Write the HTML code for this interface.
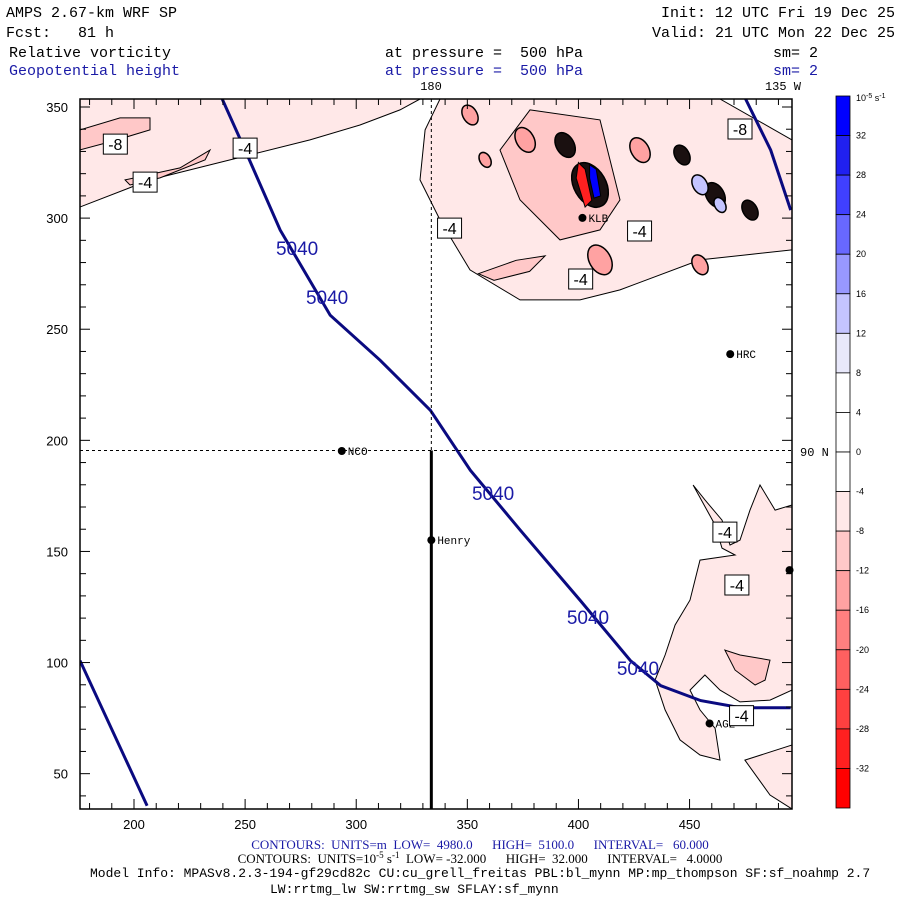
<!DOCTYPE html>
<html><head><meta charset="utf-8"><style>
body{margin:0;background:#fff;}
svg{display:block;font-family:"Liberation Mono",monospace;}
text{white-space:pre;}
</style></head><body>
<svg id="chart" width="900" height="900" viewBox="0 0 900 900" xml:space="preserve">
<g font-size="15">
<text x="6" y="17">AMPS 2.67-km WRF SP</text>
<text x="6" y="37">Fcst:   81 h</text>
<text x="895" y="17" text-anchor="end">Init: 12 UTC Fri 19 Dec 25</text>
<text x="895" y="37" text-anchor="end">Valid: 21 UTC Mon 22 Dec 25</text>
<text x="9" y="57">Relative vorticity</text>
<text x="385" y="57">at pressure =  500 hPa</text>
<text x="773" y="57">sm= 2</text>
<text x="9" y="75" fill="#1a1aa6">Geopotential height</text>
<text x="385" y="75" fill="#1a1aa6">at pressure =  500 hPa</text>
<text x="773" y="75" fill="#1a1aa6">sm= 2</text>
<text x="431" y="90" font-size="12" text-anchor="middle">180</text>
<text x="783" y="90" font-size="12" text-anchor="middle">135 W</text>
<text x="800" y="456" font-size="12">90 N</text>
</g>
<defs><clipPath id="pc"><rect x="80" y="99" width="712" height="710"/></clipPath></defs>
<g id="regions" clip-path="url(#pc)"></g>
<g id="lines" clip-path="url(#pc)"></g>
<g id="stations"></g>
<g id="labels"></g>
<g id="axes"></g>
<g id="cbar"></g>
<g font-family="Liberation Serif,serif">
<text x="480" y="849" font-size="13" fill="#1a1aa6" text-anchor="middle">CONTOURS:  UNITS=m  LOW=  4980.0      HIGH=  5100.0      INTERVAL=   60.000</text>
<text x="480" y="863" font-size="13" text-anchor="middle">CONTOURS:  UNITS=10<tspan dy="-5" font-size="9">-5</tspan><tspan dy="5"> s</tspan><tspan dy="-5" font-size="9">-1</tspan><tspan dy="5">  LOW= -32.000      HIGH=  32.000      INTERVAL=   4.0000</tspan></text>
<text x="90" y="877" font-size="13" font-family="Liberation Mono,monospace">Model Info: MPASv8.2.3-194-gf29cd82c CU:cu_grell_freitas PBL:bl_mynn MP:mp_thompson SF:sf_noahmp 2.7</text>
<text x="270" y="893" font-size="13" font-family="Liberation Mono,monospace">LW:rrtmg_lw SW:rrtmg_sw SFLAY:sf_mynn</text>
</g>
</svg>
<script>
const xTicks=[200,250,300,350,400,450];
const yTicks=[50,100,150,200,250,300,350];
const cbarLabels=["32","28","24","20","16","12","8","4","0","-4","-8","-12","-16","-20","-24","-28","-32"];
const cbarColors=["#0000ff","#2020f0","#4040ff","#6868ff","#9898ff","#c4c4ff","#e8e8fa","#ffffff","#ffffff","#ffffff","#ffe8e8","#ffc8c8","#ffa2a2","#ff8080","#ff6060","#ff4040","#ff2020","#ff0000"];
const heightLine1=[[239.7,353.6],[250,330.6],[265.8,294.6],[288.3,256.3],[310.8,236],[333.4,213.5],[351.4,186.5],[373.9,159.5],[400.9,127.9],[423.4,100.9],[437,89.6],[455,82.9],[473,79.7],[495.5,79.7]];
const heightLine2=[[175.7,100.9],[205.9,35.6]];
const heightLine3=[[475.2,353.6],[486.5,330.6],[495.5,303.6]];
const heightLabels=[[273.4,286.5],[286.9,264.5],[361.6,176.3],[404.3,120.5],[426.8,97.5]];
const stationNames=["NCO","Henry","HRC","AG2","KLB",""];
const stationLon=[293.5,333.8,468.3,459,401.8,495];
const stationLat=[195.2,155.1,238.8,72.6,300.1,141.6];
const vortLabels=["-8","-4","-4","-4","-4","-4","-8","-4","-4","-4"];
const vortLabelX=[191.6,205,250,342,427.5,401,472.7,465.9,471.3,473.4];
const vortLabelY=[333.3,316.2,331.5,295.5,294.2,272.6,340.1,158.7,134.9,76.1];
const regionLevels=[-4,-8,-8,-4,-8,-4,-8,-4,-8];
const regionShapes=[
[[175.7,353.6],[328.7,353.6],[319.7,348.7],[301.7,341.9],[279.2,335.2],[243.2,326.2],[207.2,317.2],[175.7,305]],
[[175.7,339.7],[193.7,345.1],[207.2,345.1],[207.2,339.7],[189.2,334.3],[175.7,330.7]],
[[196,317.2],[220.7,322.6],[234.2,330.6],[232,326.2],[211.7,318.1],[198.2,314.9]],
[[337.7,353.6],[463.7,353.6],[496.1,335.2],[496.1,285.7],[454.7,281.2],[418.7,267.7],[400.7,263.2],[373.7,263.2],[351.2,276.7],[337.7,299.2],[328.7,317.2],[331,339.7]],
[[378.2,348.7],[409.7,344.2],[418.7,308.2],[409.7,294.7],[391.7,290.2],[373.7,308.2],[364.7,330.6]],
[[451.6,179.9],[461.5,161.9],[464.6,151.5],[470.5,148.4],[454.7,146.1],[450.2,128.1],[443.5,116.9],[439,103.4],[434.5,92.2],[439,78.7],[445.7,65.2],[454.7,58.4],[463.7,56.1],[461.5,70.4],[454.7,78.7],[450.2,87.6],[456.9,94.4],[463.7,87.6],[472.7,82.3],[486.2,83.1],[496.1,87.6],[496.1,170.9],[488.5,168.6],[481.7,179.9],[477.2,168.6],[472.7,155.1],[468.2,152.9],[464.6,164.1],[457,173.1]],
[[465.9,105.6],[472.7,103.4],[486.2,101.1],[484,92.1],[479.5,89.9],[470.5,96.6]],
[[474.9,56.1],[496.1,62.9],[496.1,34.1],[486.2,40.4]],
[[355,275],[372,281],[385,283],[378,276],[362,272]]];
const blobX=[394,446.6,461.5,477.2,427.7,409.7,376,351.2,454.7,358,454.7,463.7,405.2];
const blobY=[332.9,328.4,310.4,303.6,330.6,281.2,335.2,346.4,279,326.2,315,305.9,314.9];
const blobR=[5,4,5,4,5,6,5,4,4,3,4,3,9];
const blobLevel=[99,99,99,99,-12,-12,-12,-12,-12,-12,16,16,99];
const coreLevels=[-30,30];
const coreShapes=[
[[400,325],[403,322],[406,308],[403,305],[399,318]],
[[405,324],[408,322],[410,310],[407,309],[405,318]]];
const X0=175.7,X1=496.1,Y0=34.1,Y1=353.6,PL=80,PR=792,PT=99,PB=809;
function xs(v){return PL+(v-X0)/(X1-X0)*(PR-PL);}
function ys(v){return PB-(v-Y0)/(Y1-Y0)*(PB-PT);}
const NS="http://www.w3.org/2000/svg";
function mk(t,a,p){const e=document.createElementNS(NS,t);for(const k in a)e.setAttribute(k,a[k]);p.appendChild(e);return e;}
function colorFor(l){if(l>50)return"#1a1010";if(l<=-28)return"#ff2020";if(l<=-12)return"#ffa2a2";if(l<=-8)return"#ffc8c8";if(l<0)return"#ffe8e8";if(l>=28)return"#0000ff";return"#c4c4ff";}
const R=document.getElementById('regions');
function drawShape(s,l){
 const p=mk('path',{d:'M'+s.map(q=>xs(q[0]).toFixed(1)+','+ys(q[1]).toFixed(1)).join('L')+'Z',fill:colorFor(l),stroke:'#000','stroke-width':1},R);
 
 
}
regionShapes.forEach((s,i)=>drawShape(s,regionLevels[i]));
blobX.forEach((v,i)=>{
 const r=blobR[i]*(PR-PL)/(X1-X0);
 const e=mk('ellipse',{cx:xs(v),cy:ys(blobY[i]),rx:r*0.8,ry:r*1.2,fill:colorFor(blobLevel[i]),stroke:'#000','stroke-width':1.5,transform:'rotate(-30 '+xs(v)+' '+ys(blobY[i])+')'},R);
 
 
});
coreShapes.forEach((s,i)=>drawShape(s,coreLevels[i]));
const L=document.getElementById('lines');
[heightLine1,heightLine2,heightLine3].forEach(s=>{
 const p=mk('polyline',{points:s.map(q=>xs(q[0]).toFixed(1)+','+ys(q[1]).toFixed(1)).join(' '),fill:'none',stroke:'#0a0a80','stroke-width':3},L);
 
 
});
heightLabels.forEach(q=>{
 const t=mk('text',{x:xs(q[0]),y:ys(q[1])+7,'text-anchor':'middle','font-size':19,fill:'#1a1aa6','font-family':'Liberation Sans,sans-serif'},L);
 t.textContent='5040';
 
 
});
const A=document.getElementById('axes');
mk('line',{x1:xs(333.8),x2:xs(333.8),y1:PT,y2:ys(195.4),stroke:'#000','stroke-dasharray':'3,3'},A);
mk('line',{x1:PL,x2:PR,y1:ys(195.4),y2:ys(195.4),stroke:'#000','stroke-dasharray':'3,3'},A);
mk('line',{x1:xs(333.8),x2:xs(333.8),y1:ys(195.4),y2:PB,stroke:'#000','stroke-width':3},A);
mk('rect',{x:PL,y:PT,width:PR-PL,height:PB-PT,fill:'none',stroke:'#000','stroke-width':1.5},A);
for(let v=180;v<=490;v+=10){const x=xs(v);const len=v%50==0?10:6;
 mk('line',{x1:x,x2:x,y1:PB,y2:PB-len,stroke:'#000'},A);mk('line',{x1:x,x2:x,y1:PT,y2:PT+len,stroke:'#000'},A);}
for(let v=40;v<=350;v+=10){const y=ys(v);const len=v%50==0?10:6;
 mk('line',{x1:PL,x2:PL+len,y1:y,y2:y,stroke:'#000'},A);mk('line',{x1:PR,x2:PR-len,y1:y,y2:y,stroke:'#000'},A);}
xTicks.forEach(v=>{const t=mk('text',{x:xs(v),y:829,'text-anchor':'middle','font-size':13,'font-family':'Liberation Sans,sans-serif'},A);t.textContent=v;
 });
yTicks.forEach(v=>{const t=mk('text',{x:68,y:ys(v)+5,'text-anchor':'end','font-size':13,'font-family':'Liberation Sans,sans-serif'},A);t.textContent=v;
 });
const S=document.getElementById('stations');
stationNames.forEach((n,i)=>{const x=xs(stationLon[i]),y=ys(stationLat[i]);
 const c=mk('circle',{cx:x,cy:y,r:4,fill:'#000'},S);
 
 if(n){const t=mk('text',{x:x+6,y:y+4,'font-size':11},S);t.textContent=n;
 }});
const LB=document.getElementById('labels');
vortLabels.forEach((n,i)=>{const x=xs(vortLabelX[i]),y=ys(vortLabelY[i]);
 const g=mk('g',{},LB);
 
 mk('rect',{x:x-12,y:y-10,width:24,height:20,fill:'#fff',stroke:'#000'},g);
 const t=mk('text',{x:x,y:y+6,'text-anchor':'middle','font-size':16,'font-family':'Liberation Sans,sans-serif'},g);t.textContent=n;});
const C=document.getElementById('cbar');
const cb0=96,cbH=712/18;
cbarColors.forEach((c,i)=>{const r=mk('rect',{x:836,y:cb0+i*cbH,width:14,height:cbH,fill:c,stroke:'#000','stroke-width':0.8},C);
 });
cbarLabels.forEach((l,i)=>{const t=mk('text',{x:856,y:cb0+(i+1)*cbH+3,'font-size':9,'font-family':'Liberation Sans,sans-serif'},C);t.textContent=l;
 });
const u=mk('text',{x:856,y:101,'font-size':9,'font-family':'Liberation Sans,sans-serif'},C);u.innerHTML='10<tspan dy="-3" font-size="7">-5</tspan><tspan dy="3"> s</tspan><tspan dy="-3" font-size="7">-1</tspan>';


</script>
</body></html>
